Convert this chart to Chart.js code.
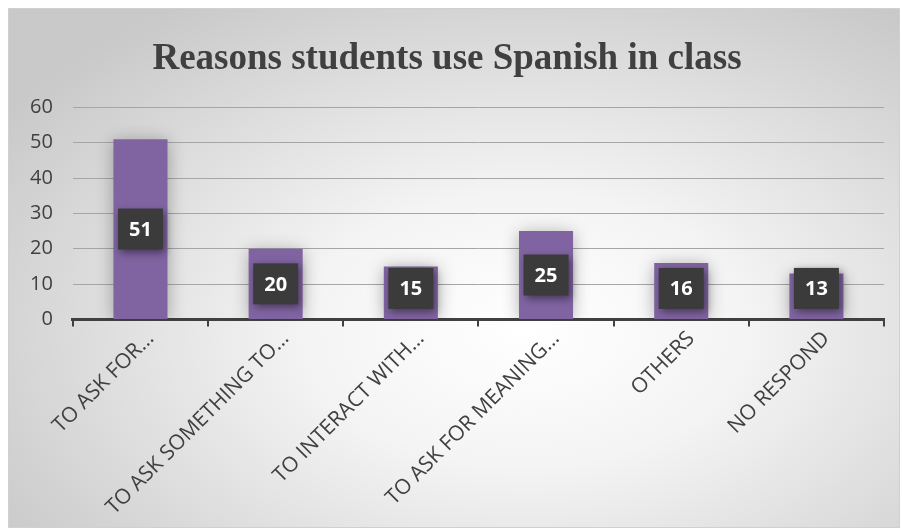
<!DOCTYPE html>
<html>
<head>
<meta charset="utf-8">
<script src="https://cdn.jsdelivr.net/npm/chart.js@4"></script>
<style>
  html, body { margin: 0; padding: 0; background: #fff; }
  #wrap {
    position: absolute; left: 8px; top: 8px; width: 892px; height: 520px;
    border: 1px solid #d0d0d0; box-sizing: border-box;
    background: radial-gradient(ellipse 70% 75% at 58% 62%, #ffffff 0%, #f4f4f4 35%, #c9c9c9 100%);
  }
  canvas { display: block; }
</style>
</head>
<body>
<div id="wrap"><canvas id="chart" width="892" height="520"></canvas></div>
<script>
// ==================== DATA ====================
const categories = ['TO ASK FOR…', 'TO ASK SOMETHING TO…', 'TO INTERACT WITH…', 'TO ASK FOR MEANING…', 'OTHERS', 'NO RESPOND'];
const values = [51, 20, 15, 25, 16, 13];
const yTicks = [0, 10, 20, 30, 40, 50, 60];

const TEXT = '#404040';
const BAR = '#8064A2';

// soft glow behind bars
const barShadow = {
  id: 'barShadow',
  beforeDatasetsDraw(chart) {
    const ctx = chart.ctx;
    ctx.save();
    ctx.shadowColor = 'rgba(0,0,0,0.3)';
    ctx.shadowBlur = 16;
    ctx.shadowOffsetX = 0;
    ctx.shadowOffsetY = 2;
  },
  afterDatasetsDraw(chart) {
    chart.ctx.restore();
  }
};

// dark value boxes in the middle of each bar
const valueBoxes = {
  id: 'valueBoxes',
  afterDatasetsDraw(chart) {
    const ctx = chart.ctx;
    const meta = chart.getDatasetMeta(0);
    const w = 45, h = 41;
    meta.data.forEach((bar, i) => {
      const p = bar.getProps(['x', 'y', 'base'], true);
      let cy = (p.y + p.base) / 2;
      cy = Math.min(cy, p.base - 10 - h / 2);
      ctx.save();
      ctx.shadowColor = 'rgba(0,0,0,0.45)';
      ctx.shadowBlur = 8;
      ctx.shadowOffsetX = 2;
      ctx.shadowOffsetY = 3;
      ctx.fillStyle = '#3b3b3b';
      ctx.fillRect(p.x - w / 2, cy - h / 2, w, h);
      ctx.restore();
      ctx.save();
      ctx.fillStyle = '#ffffff';
      ctx.font = 'bold 20px "Open Sans", sans-serif';
      ctx.textAlign = 'center';
      ctx.textBaseline = 'middle';
      ctx.fillText(String(values[i]), p.x, cy + 1);
      ctx.restore();
    });
  }
};

new Chart(document.getElementById('chart'), {
  type: 'bar',
  data: {
    labels: categories,
    datasets: [{
      data: values,
      backgroundColor: BAR,
      borderWidth: 0,
      categoryPercentage: 1,
      barPercentage: 0.4
    }]
  },
  options: {
    responsive: false,
    animation: false,
    layout: { padding: { left: 1, right: 17, top: 0, bottom: 9 } },
    plugins: {
      legend: { display: false },
      tooltip: { enabled: false },
      title: {
        display: true,
        text: 'Reasons students use Spanish in class',
        color: TEXT,
        font: { family: '"Liberation Serif", "Times New Roman", serif', size: 37, weight: 'bold' },
        padding: { top: 28, bottom: 26 }
      }
    },
    scales: {
      y: {
        min: 0,
        max: 60,
        afterBuildTicks(axis) { axis.ticks = yTicks.map(v => ({ value: v })); },
        border: { display: false },
        grid: { color: '#a6a6a6', lineWidth: 1, drawTicks: false },
        ticks: {
          color: TEXT,
          padding: 20,
          font: { family: '"Open Sans", sans-serif', size: 20 }
        }
      },
      x: {
        afterFit(axis) { axis.paddingLeft = 0; axis.paddingRight = 0; },
        border: { display: true, color: TEXT, width: 3 },
        grid: { drawOnChartArea: false, color: TEXT, lineWidth: 2, tickLength: 7 },
        ticks: {
          color: TEXT,
          minRotation: 45,
          maxRotation: 45,
          padding: 0,
          labelOffset: 10,
          font: { family: '"Open Sans", sans-serif', size: 21 }
        }
      }
    }
  },
  plugins: [barShadow, valueBoxes]
});
</script>
</body>
</html>
